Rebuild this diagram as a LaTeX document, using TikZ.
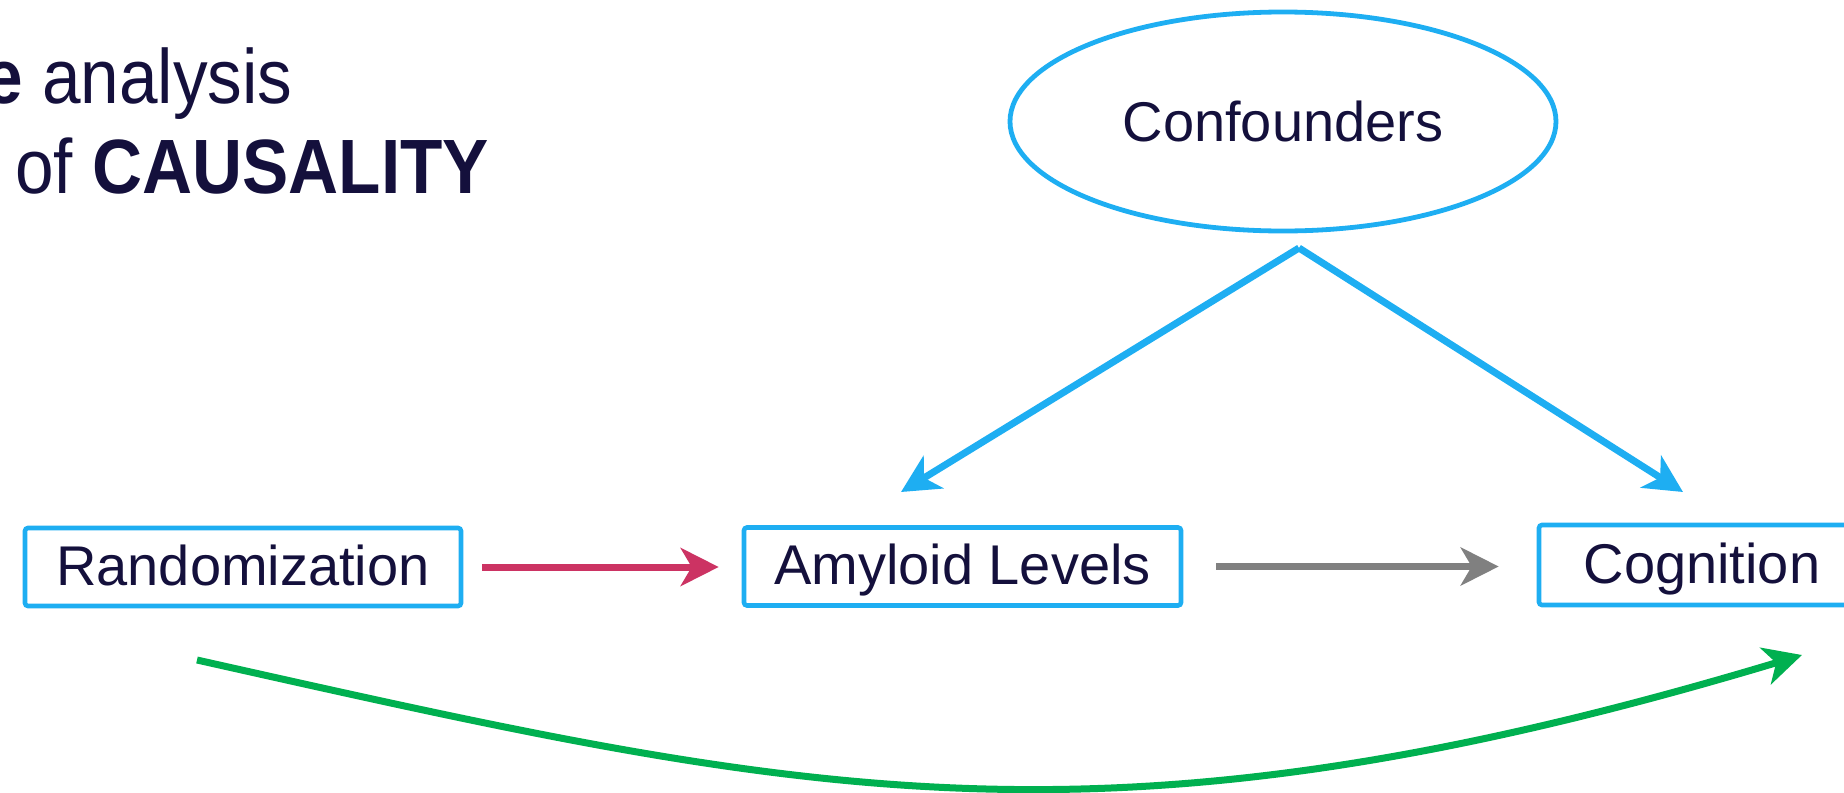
\documentclass[tikz,border=0pt]{standalone}
\usepackage{fontspec}
\setmainfont{Liberation Sans}
\newfontfamily\narrowfam[FakeStretch=0.9]{Liberation Sans}
\usetikzlibrary{arrows.meta,shapes.geometric}

\definecolor{inkc}{RGB}{20,16,60}
\definecolor{skyc}{RGB}{30,174,242}
\definecolor{crimsonc}{RGB}{204,51,99}
\definecolor{greyc}{RGB}{128,128,128}
\definecolor{greenc}{RGB}{0,176,80}

\newcommand\lblfont{\fontsize{28}{34}\selectfont}
\newcommand\ttlfont{\narrowfam\fontsize{38.5}{46}\selectfont}

\begin{document}
\begin{tikzpicture}[x=0.5pt,y=-0.5pt,
  boxnode/.style={draw=skyc, line width=2.3pt, rounded corners=1.5pt,
    inner sep=0pt, minimum height=39pt, text height=18pt, text depth=0pt,
    font=\lblfont, text=inkc},
  ovalnode/.style={ellipse, draw=skyc, line width=2.4pt, inner sep=0pt,
    minimum width=273pt, minimum height=109.5pt,
    text height=19.5pt, text depth=0pt, font=\lblfont, text=inkc},
  titlenode/.style={inner sep=0pt, anchor=base west, font=\ttlfont, text=inkc},
  headtip/.style={-{Stealth[length=19pt,width=19pt,inset=5.5pt]}},
  linkarrow/.style={headtip, line width=3.5pt},
]
\useasboundingbox (0,0) rectangle (1844,793);

% heading
\node[titlenode] (headA) at (-16,103) {\textbf{e} analysis};
\node[titlenode] (headB) at (15,193) {of \textbf{CAUSALITY}};

% variables
\node[boxnode, minimum width=218pt] (rand) at (243,567) {Randomization};
\node[boxnode, minimum width=218.5pt] (amy) at (962.5,566.5) {Amyloid Levels};
\node[boxnode, minimum width=163pt, minimum height=40pt] (cog) at (1702,565) {Cognition};
\node[ovalnode] (conf) at (1283,121.5) {Confounders};

% anchor points of the free connector ends
\coordinate (split) at (1299,248);
\coordinate (amyin) at (901,492);
\coordinate (cogin) at (1683,492);
\coordinate (gstart) at (197,660);
\coordinate (gend) at (1802,655);

% effects
\draw[linkarrow, draw=crimsonc, shorten <=9.5pt, shorten >=11.5pt]
  (rand.east) -- (amy.west |- rand.east);
\draw[linkarrow, draw=greyc, shorten <=16.5pt, shorten >=19pt]
  (amy.east) -- (cog.west |- amy.east);
\draw[linkarrow, draw=skyc] (split) -- (amyin);
\draw[linkarrow, draw=skyc] (split) -- (cogin);
\draw[linkarrow, draw=greenc]
  (gstart) .. controls (800,795) and (1100,866) .. (gend);
\end{tikzpicture}
\end{document}
